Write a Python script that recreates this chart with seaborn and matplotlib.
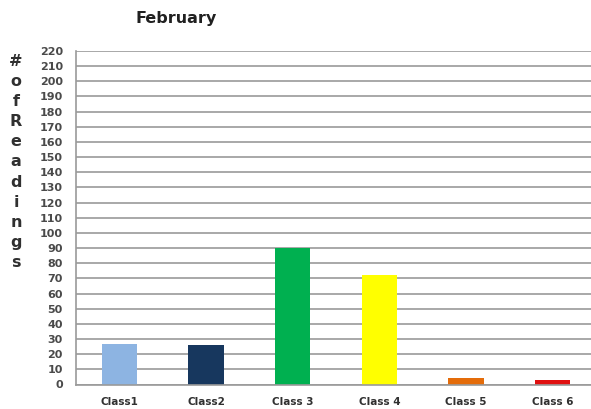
import matplotlib
matplotlib.use("Agg")
import matplotlib.pyplot as plt
import seaborn as sns
import numpy as np
import pandas as pd

categories = ["Class1", "Class2", "Class 3", "Class 4", "Class 5", "Class 6"]
readings = [27, 26, 90, 72, 4, 3]
bar_colors = ["#8DB4E2", "#17375E", "#00B050", "#FFFF00", "#E46C0A", "#E01010"]
y_ticks = list(range(0, 221, 10))

sns.set_style("white")
plt.rcParams["font.family"] = ["Liberation Sans", "DejaVu Sans"]

W, H = 591, 409
grid_grey = "#9a9a9a"
fig = plt.figure(figsize=(W / 100, H / 100), dpi=100)
ax = fig.add_axes([76 / W, (H - 384.5) / H, 520 / W, 333.5 / H])

df = pd.DataFrame({"cat": categories, "val": readings})
sns.barplot(data=df, x="cat", y="val", hue="cat", palette=bar_colors,
            legend=False, width=0.41, ax=ax, saturation=1, linewidth=0)

ax.set_xlim(-0.5, len(categories) - 0.5)
ax.set_ylim(0, 220)
ax.set_yticks(y_ticks)
ax.set_yticklabels([str(t) for t in y_ticks], fontsize=8, fontweight="bold",
                   color="#4a4a4a", family=["DejaVu Sans"])
ax.yaxis.grid(True, color=grid_grey, lw=1.2)
ax.set_axisbelow(True)
ax.tick_params(axis="y", length=3, width=1, color=grid_grey, pad=6.5)

ax.set_xticks(range(len(categories)))
ax.set_xticklabels(categories, fontsize=7.5, fontweight="bold", color="#303030",
                   family=["DejaVu Sans"])
ax.tick_params(axis="x", which="major", length=0, pad=9)
ax.set_xticks(np.arange(0.5, len(categories) - 0.5, 1), minor=True)
ax.tick_params(axis="x", which="minor", length=4, color=grid_grey, width=1,
               direction="out")

ax.set_xlabel("")
ax.set_ylabel("")
for side in ["top", "right"]:
    ax.spines[side].set_visible(False)
for side in ["left", "bottom"]:
    ax.spines[side].set_color(grid_grey)
    ax.spines[side].set_linewidth(1.2)

fig.text(176 / W, 1 - 19 / H, "February", ha="center", va="center",
         fontsize=11.5, fontweight="bold", color="#202020",
         family=["DejaVu Sans"])
fig.text(16 / W, 1 - 162 / H, "\n".join("#ofReadings"), ha="center",
         va="center", fontsize=11.5, fontweight="bold", color="#303030",
         linespacing=1.42, family=["DejaVu Sans"])

fig.savefig("out.png", dpi=100)
